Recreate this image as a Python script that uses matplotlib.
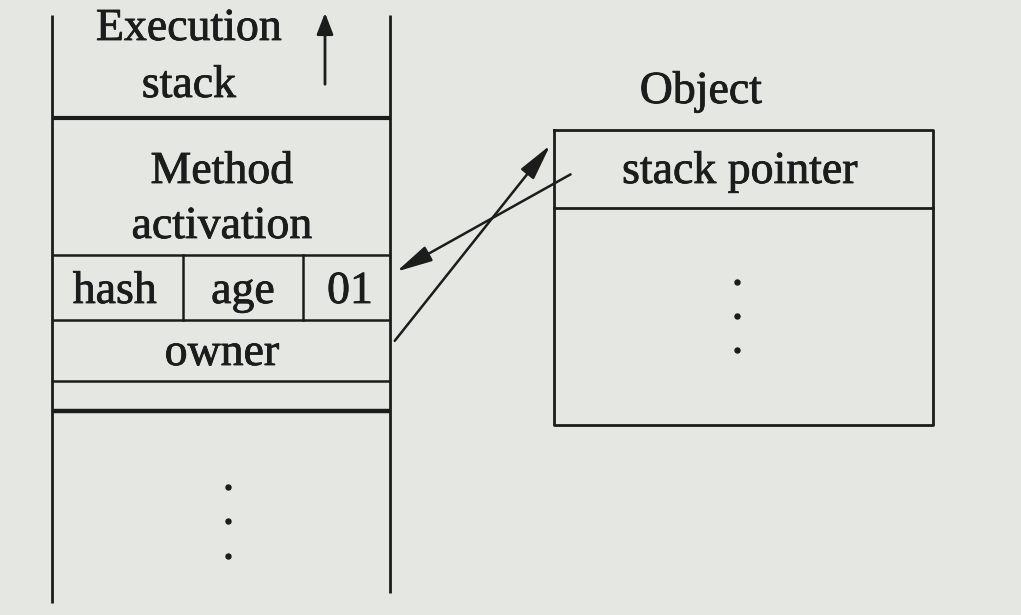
import matplotlib
matplotlib.use("Agg")
import matplotlib.pyplot as plt
import matplotlib.patheffects as pe
from matplotlib.patches import FancyArrowPatch

# ---- content ----
stack_title = ["Execution", "stack"]
method_label = ["Method", "activation"]
header_fields = ["hash", "age", "01"]
owner_label = "owner"
object_title = "Object"
object_field = "stack pointer"

# ---- geometry (pixel space) ----
W, H = 1021, 615
bg = "#e5e7e3"
ink = "#1c1c1c"
font = "Liberation Serif"
fs = 33
fx = [pe.withStroke(linewidth=0.6, foreground=ink)]

fig = plt.figure(figsize=(W / 100, H / 100), dpi=100, facecolor=bg)
ax = fig.add_axes([0, 0, 1, 1])
ax.set_xlim(0, W)
ax.set_ylim(H, 0)
ax.axis("off")
ax.set_facecolor(bg)


def label(x, y, s):
    ax.text(x, y, s, fontsize=fs, family=font, ha="center", va="baseline",
            color=ink, path_effects=fx)


L, R = 52, 390
# stack side walls
ax.plot([L, L], [15, 603], color=ink, lw=2.0, solid_capstyle="butt")
ax.plot([R, R], [15, 593], color=ink, lw=2.0, solid_capstyle="butt")

# horizontal separators (y, linewidth)
rows = [(118, 3.0), (255, 1.8), (320, 1.8), (381, 1.8), (411, 3.2)]
for y, lw in rows:
    ax.plot([L, R], [y, y], color=ink, lw=lw, solid_capstyle="butt")

# header dividers
for x in [183, 303]:
    ax.plot([x, x], [255, 320], color=ink, lw=1.8)

# texts in stack
label(189, 40, stack_title[0])
label(189, 97, stack_title[1])
label(222, 183, method_label[0])
label(222, 238, method_label[1])
for x, t in zip([115, 243, 350], header_fields):
    label(x, 303, t)
label(222, 365, owner_label)

# growth arrow
ax.add_patch(FancyArrowPatch((325, 87), (325, 10), arrowstyle="-|>,head_length=13,head_width=5",
                             mutation_scale=1, color=ink, lw=2.0))

# stack dots
for y in [487, 521, 556]:
    ax.plot(228, y, "o", color=ink, ms=3.6)

# object box
bx0, bx1, by0, by1 = 554, 933, 130, 425
ax.plot([bx0, bx1, bx1, bx0, bx0], [by0, by0, by1, by1, by0], color=ink, lw=2.0)
ax.plot([bx0, bx1], [208, 208], color=ink, lw=2.0)
label(701, 103, object_title)
label(740, 183, object_field)
for y in [282, 316, 350]:
    ax.plot(737, y, "o", color=ink, ms=3.6)

# pointer arrows
ax.add_patch(FancyArrowPatch((573, 173), (394, 273), arrowstyle="-|>,head_length=22,head_width=5",
                             mutation_scale=1, color=ink, lw=1.8))
ax.add_patch(FancyArrowPatch((393, 343), (552, 143), arrowstyle="-|>,head_length=22,head_width=5",
                             mutation_scale=1, color=ink, lw=1.8))

fig.savefig("out.png", dpi=100, facecolor=bg)
